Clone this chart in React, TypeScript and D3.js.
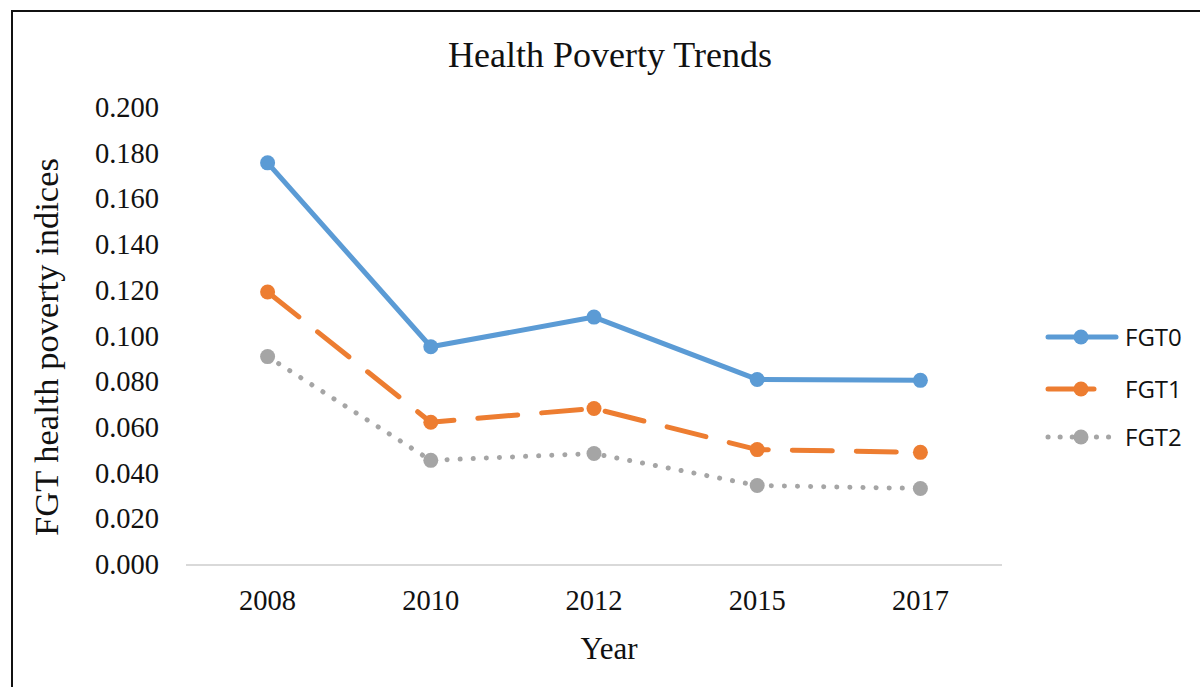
import { useEffect, useRef } from "react";
import * as d3 from "d3";

const years = ["2008", "2010", "2012", "2015", "2017"];
const fgt0 = [0.176, 0.0955, 0.1085, 0.0812, 0.0808];
const fgt1 = [0.1195, 0.0625, 0.0685, 0.0505, 0.0493];
const fgt2 = [0.0912, 0.0458, 0.0488, 0.0348, 0.0335];
const yTicks = [0, 0.02, 0.04, 0.06, 0.08, 0.1, 0.12, 0.14, 0.16, 0.18, 0.2];

const App = () => {
  const ref = useRef<SVGSVGElement>(null);

  useEffect(() => {
    const svg = d3.select(ref.current);
    svg.selectAll("*").remove();

    const W = 1200,
      H = 687,
      left = 186,
      right = 1002,
      top = 108,
      bottom = 565;

    const series = [
      { name: "FGT0", values: fgt0, color: "#5B9BD5", dash: null as string | null },
      { name: "FGT1", values: fgt1, color: "#ED7D31", dash: "40 24" },
      { name: "FGT2", values: fgt2, color: "#A5A5A5", dash: "0.1 13" },
    ];

    // frame
    svg
      .append("rect")
      .attr("x", 12)
      .attr("y", 11)
      .attr("width", W + 20)
      .attr("height", H + 20)
      .attr("fill", "white")
      .attr("stroke", "#111")
      .attr("stroke-width", 2);

    const x = d3.scaleBand().domain(years).range([left, right]);
    const y = d3.scaleLinear().domain([0, 0.2]).range([bottom, top]);

    const serif = "'Liberation Serif', 'Times New Roman', serif";

    // title
    svg
      .append("text")
      .attr("x", 610)
      .attr("y", 67)
      .attr("text-anchor", "middle")
      .style("font-family", serif)
      .style("font-size", "36px")
      .attr("fill", "#111")
      .text("Health Poverty Trends");

    // y tick labels
    svg
      .append("g")
      .selectAll("text")
      .data(yTicks)
      .enter()
      .append("text")
      .attr("x", 159)
      .attr("y", (d) => y(d) + 9)
      .attr("text-anchor", "end")
      .style("font-family", serif)
      .style("font-size", "28.5px")
      .attr("fill", "#111")
      .text((d) => d.toFixed(3));

    // x axis baseline
    svg
      .append("line")
      .attr("x1", left)
      .attr("x2", right)
      .attr("y1", y(0))
      .attr("y2", y(0))
      .attr("stroke", "#D9D9D9")
      .attr("stroke-width", 2);

    // x tick labels
    svg
      .append("g")
      .selectAll("text")
      .data(years)
      .enter()
      .append("text")
      .attr("x", (d) => (x(d) as number) + x.bandwidth() / 2)
      .attr("y", 610)
      .attr("text-anchor", "middle")
      .style("font-family", serif)
      .style("font-size", "28.5px")
      .attr("fill", "#111")
      .text((d) => d);

    // axis titles
    svg
      .append("text")
      .attr("x", 609)
      .attr("y", 659)
      .attr("text-anchor", "middle")
      .style("font-family", serif)
      .style("font-size", "31px")
      .attr("fill", "#111")
      .text("Year");

    svg
      .append("text")
      .attr("transform", "translate(58,347) rotate(-90)")
      .attr("text-anchor", "middle")
      .style("font-family", serif)
      .style("font-size", "34.5px")
      .attr("fill", "#111")
      .text("FGT health poverty indices");

    const line = d3
      .line<number>()
      .x((_, i) => (x(years[i]) as number) + x.bandwidth() / 2)
      .y((d) => y(d));

    series.forEach((s) => {
      const g = svg.append("g");
      g.append("path")
        .attr("d", line(s.values) as string)
        .attr("fill", "none")
        .attr("stroke", s.color)
        .attr("stroke-width", 5)
        .attr("stroke-linecap", "round")
        .attr("stroke-linejoin", "round")
        .attr("stroke-dasharray", s.dash);
      g.selectAll("circle")
        .data(s.values)
        .enter()
        .append("circle")
        .attr("cx", (_, i) => (x(years[i]) as number) + x.bandwidth() / 2)
        .attr("cy", (d) => y(d))
        .attr("r", 7.5)
        .attr("fill", s.color);
    });

    // legend
    const legendY = [337, 389, 437];
    series.forEach((s, i) => {
      const g = svg.append("g").attr("transform", `translate(0,${legendY[i]})`);
      g.append("line")
        .attr("x1", 1048)
        .attr("x2", 1116)
        .attr("y1", 0)
        .attr("y2", 0)
        .attr("stroke", s.color)
        .attr("stroke-width", 5)
        .attr("stroke-linecap", "round")
        .attr("stroke-dasharray", s.dash ? (i === 1 ? "46 100" : "0.1 12") : null);
      g.append("circle").attr("cx", 1081).attr("cy", 0).attr("r", 7.5).attr("fill", s.color);
      g.append("text")
        .attr("x", 1125)
        .attr("y", 9)
        .style("font-family", "'Open Sans', 'Liberation Sans', sans-serif")
        .style("font-size", "24px")
        .attr("fill", "#111")
        .text(s.name);
    });
  }, []);

  return (
    <svg
      ref={ref}
      width={1200}
      height={687}
      style={{ position: "absolute", left: 0, top: 0, display: "block" }}
    />
  );
};

export default App;
